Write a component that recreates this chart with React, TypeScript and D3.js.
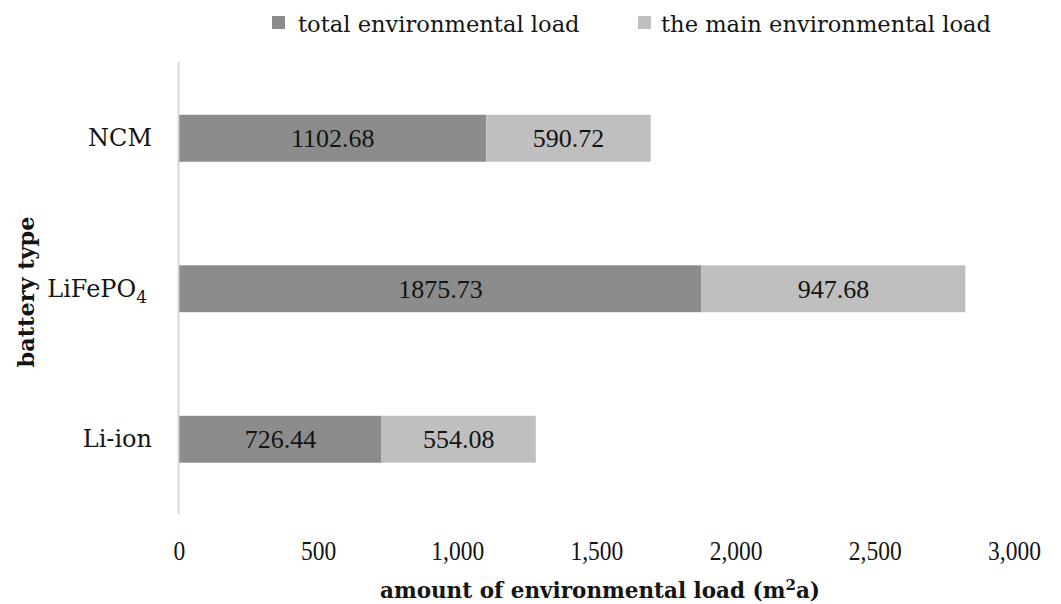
import React from "react";
import * as d3 from "d3";

const categories = ["NCM", "LiFePO4", "Li-ion"];
const totalLoad = [1102.68, 1875.73, 726.44];
const mainLoad = [590.72, 947.68, 554.08];
const seriesNames = ["total environmental load", "the main environmental load"];
const xTicks = [0, 500, 1000, 1500, 2000, 2500, 3000];

const W = 1061;
const H = 604;
const NUMFONT = "'Liberation Serif', 'Times New Roman', serif";
const WORDFONT = "'DejaVu Serif', serif";
const DARK = "#8c8c8c";
const LIGHT = "#bfbfbf";
const INK = "#141414";

export default function App() {
  const x = d3.scaleLinear().domain([0, 3000]).range([179.3, 1014.5]);
  const y = d3
    .scaleBand<string>()
    .domain(categories)
    .range([63, 514.5])
    .paddingInner(0.688)
    .paddingOuter(0.344);
  const fmt = d3.format(",");
  const bw = y.bandwidth();

  return (
    <svg
      width={W}
      height={H}
      style={{ position: "absolute", left: 0, top: 0, background: "#fff" }}
    >
      {/* legend */}
      <rect x={272} y={16} width={13} height={13} fill={DARK} />
      <text x={298} y={32} fontSize={22.6} fontFamily={WORDFONT} fill={INK}>
        {seriesNames[0]}
      </text>
      <rect x={638} y={16} width={13} height={13} fill={LIGHT} />
      <text x={661} y={32} fontSize={22.6} fontFamily={WORDFONT} fill={INK}>
        {seriesNames[1]}
      </text>

      {/* axis line */}
      <line x1={178.5} x2={178.5} y1={62} y2={514} stroke="#d9d9d9" strokeWidth={2} />

      {categories.map((c, i) => {
        const y0 = y(c)!;
        const a = totalLoad[i];
        const b = mainLoad[i];
        return (
          <g key={c}>
            <rect x={x(0)} y={y0} width={x(a) - x(0)} height={bw} fill={DARK} />
            <rect x={x(a)} y={y0} width={x(a + b) - x(a)} height={bw} fill={LIGHT} />
            <text
              x={(x(0) + x(a)) / 2}
              y={y0 + bw / 2 + 9}
              textAnchor="middle"
              fontSize={26}
              fontFamily={NUMFONT}
              fill={INK}
            >
              {a.toFixed(2)}
            </text>
            <text
              x={(x(a) + x(a + b)) / 2}
              y={y0 + bw / 2 + 9}
              textAnchor="middle"
              fontSize={26}
              fontFamily={NUMFONT}
              fill={INK}
            >
              {b.toFixed(2)}
            </text>
            <text
              x={c === "LiFePO4" ? 147 : 152}
              y={y0 + bw / 2 + 8}
              textAnchor="end"
              fontSize={24}
              fontFamily={WORDFONT}
              fill={INK}
            >
              {c === "LiFePO4" ? (
                <>
                  LiFePO<tspan fontSize={17} dy="6">4</tspan>
                </>
              ) : (
                c
              )}
            </text>
          </g>
        );
      })}

      {/* x tick labels */}
      {xTicks.map((t) => (
        <text
          key={t}
          transform={`translate(${x(t)},560) scale(0.84,1)`}
          textAnchor="middle"
          fontSize={28}
          fontFamily={NUMFONT}
          fill={INK}
        >
          {fmt(t)}
        </text>
      ))}

      {/* axis titles */}
      <text
        x={600}
        y={598}
        textAnchor="middle"
        fontSize={21.5}
        fontWeight="bold"
        fontFamily={WORDFONT}
        fill={INK}
      >
        amount of environmental load (m<tspan fontSize={15} dy="-8">2</tspan>
        <tspan dy="8">a)</tspan>
      </text>
      <text
        transform={`translate(34,292) rotate(-90)`}
        textAnchor="middle"
        fontSize={22.4}
        fontWeight="bold"
        fontFamily={WORDFONT}
        fill={INK}
      >
        battery type
      </text>
    </svg>
  );
}
